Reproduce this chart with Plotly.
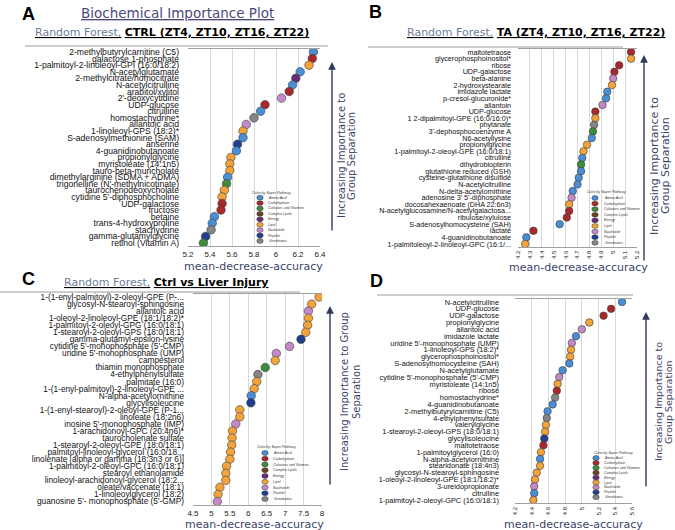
import plotly.graph_objects as go

W, H = 675, 530

# ---------------- data ----------------
pathway_names = ["Amino Acid", "Carbohydrate", "Cofactors and Vitamins", "Complex Lipids",
                 "Energy", "Lipid", "Nucleotide", "Peptide", "Xenobiotics"]
pathway_codes = ["AA", "CH", "CV", "CL", "EN", "LI", "NU", "PE", "XE"]

a_labels = ["2-methylbutyrylcarnitine (C5)", "galactose 1-phosphate", "1-palmitoyl-2-linoleoyl-GPI (16:0/18:2)",
            "N-acetylglutamate", "2-methylcitrate/homocitrate", "N-acetylcitrulline", "arabitol/xylitol",
            "2'-deoxycytidine", "UDP-glucose", "citrulline", "homostachydrine*", "allantoic acid",
            "1-linoleoyl-GPS (18:2)*", "S-adenosylmethionine (SAM)", "anserine", "4-guanidinobutanoate",
            "propionylglycine", "myristoleate (14:1n5)", "tauro-beta-muricholate",
            "dimethylarginine (SDMA + ADMA)", "trigonelline (N'-methylnicotinate)", "taurochenodeoxycholate",
            "cytidine 5'-diphosphocholine", "UDP-galactose", "fructose", "betaine", "trans-4-hydroxyproline",
            "stachydrine", "gamma-glutamylglycine", "retinol (Vitamin A)"]
a_values = [6.34, 6.33, 6.30, 6.22, 6.18, 6.15, 6.12, 6.05, 5.90, 5.86, 5.80, 5.73, 5.70, 5.70, 5.65,
            5.64, 5.59, 5.58, 5.58, 5.56, 5.55, 5.53, 5.51, 5.51, 5.50, 5.44, 5.42, 5.41, 5.36, 5.34]
a_paths = ["AA", "CH", "LI", "AA", "EN", "AA", "CH", "NU", "CH", "AA", "XE", "NU", "LI", "AA", "PE",
           "AA", "LI", "LI", "LI", "AA", "CV", "LI", "LI", "CH", "CH", "AA", "AA", "XE", "PE", "CV"]

b_labels = ["maltotetraose", "glycerophosphoinositol*", "ribose", "UDP-galactose", "beta-alanine",
            "2-hydroxystearate", "imidazole lactate", "p-cresol-glucuronide*", "allantoin", "UDP-glucose",
            "1 2-dipalmitoyl-GPE (16:0/16:0)*", "phytanate", "3'-dephosphocoenzyme A", "N6-acetyllysine",
            "propionylglycine", "1-palmitoyl-2-oleoyl-GPE (16:0/18:1)", "citrulline", "dihydrobiopterin",
            "glutathione reduced (GSH)", "cysteine-glutathione disulfide", "N-acetylcitrulline",
            "N-delta-acetylornithine", "adenosine 3' 5'-diphosphate", "docosahexaenoate (DHA 22:6n3)",
            "N-acetylglucosamine/N-acetylgalactosa...", "ribulose/xylulose", "S-adenosylhomocysteine (SAH)",
            "lactate", "4-guanidinobutanoate", "1-palmitoleoyl-2-linoleoyl-GPC (16:1/..."]
b_values = [5.15, 5.15, 5.05, 5.01, 5.00, 4.99, 4.95, 4.94, 4.91, 4.85, 4.85, 4.84, 4.83, 4.82, 4.78,
            4.75, 4.74, 4.73, 4.73, 4.71, 4.70, 4.66, 4.65, 4.63, 4.63, 4.61, 4.55, 4.33, 4.27, 4.26]
b_paths = ["CH", "LI", "CH", "CH", "NU", "LI", "AA", "AA", "NU", "CH", "LI", "XE", "CV", "AA", "LI",
           "LI", "AA", "CV", "AA", "AA", "AA", "AA", "NU", "LI", "CH", "CH", "AA", "CH", "AA", "LI"]

c_labels = ["1-(1-enyl-palmitoyl)-2-oleoyl-GPE (P-...", "glycosyl-N-stearoyl-sphingosine", "allantoic acid",
            "1-oleoyl-2-linoleoyl-GPE (18:1/18:2)*", "1-palmitoyl-2-oleoyl-GPG (16:0/18:1)",
            "1-stearoyl-2-oleoyl-GPS (18:0/18:1)", "gamma-glutamyl-epsilon-lysine",
            "cytidine 5'-monophosphate (5'-CMP)", "uridine 5'-monophosphate (UMP)", "campesterol",
            "thiamin monophosphate", "4-ethylphenylsulfate", "palmitate (16:0)",
            "1-(1-enyl-palmitoyl)-2-linoleoyl-GPE ...", "N-alpha-acetylornithine", "glycylisoleucine",
            "1-(1-enyl-stearoyl)-2-oleoyl-GPE (P-1...", "linoleate (18:2n6)", "inosine 5'-monophosphate (IMP)",
            "1-arachidonoyl-GPC (20:4n6)*", "taurocholenate sulfate", "1-stearoyl-2-oleoyl-GPE (18:0/18:1)",
            "palmitoyl-linoleoyl-glycerol (16:0/18...", "linolenate [alpha or gamma (18:3n3 or 6)]",
            "1-palmitoyl-2-oleoyl-GPC (16:0/18:1)", "stearoyl ethanolamide",
            "linoleoyl-arachidonoyl-glycerol (18:2...", "oleate/vaccenate (18:1)", "1-linoleoylglycerol (18:2)",
            "guanosine 5'- monophosphate (5'-GMP)"]
c_values = [7.92, 7.72, 7.63, 7.63, 7.61, 7.56, 7.43, 7.12, 6.76, 6.73, 6.46, 6.26, 6.23, 6.16, 6.08,
            6.07, 5.77, 5.77, 5.66, 5.57, 5.56, 5.55, 5.52, 5.50, 5.41, 5.39, 5.39, 5.23, 5.18, 5.16]
c_paths = ["LI", "LI", "NU", "LI", "LI", "LI", "PE", "NU", "NU", "LI", "CV", "XE", "LI", "LI", "AA",
           "PE", "LI", "LI", "NU", "LI", "LI", "LI", "LI", "LI", "LI", "LI", "LI", "LI", "LI", "NU"]

d_labels = ["N-acetylcitrulline", "UDP-glucose", "UDP-galactose", "propionylglycine", "allantoic acid",
            "imidazole lactate", "uridine 5'-monophosphate (UMP)", "1-linoleoyl-GPS (18:2)*",
            "glycerophosphoinositol*", "S-adenosylhomocysteine (SAH)", "N-acetylglutamate",
            "cytidine 5'-monophosphate (5'-CMP)", "myristoleate (14:1n5)", "ribose", "homostachydrine*",
            "4-guanidinobutanoate", "2-methylbutyrylcarnitine (C5)", "4-ethylphenylsulfate", "valerylglycine",
            "1-stearoyl-2-oleoyl-GPS (18:0/18:1)", "glycylisoleucine", "maltotetraose",
            "1-palmitoylglycerol (16:0)", "N-alpha-acetylornithine", "stearidonate (18:4n3)",
            "glycosyl-N-stearoyl-sphingosine", "1-oleoyl-2-linoleoyl-GPE (18:1/18:2)*", "3-ureidopropionate",
            "citrulline", "1-palmitoyl-2-oleoyl-GPC (16:0/18:1)"]
d_values = [5.48, 5.35, 5.26, 5.09, 5.00, 4.93, 4.88, 4.87, 4.86, 4.85, 4.77, 4.73, 4.71, 4.70, 4.68,
            4.65, 4.59, 4.58, 4.57, 4.56, 4.55, 4.54, 4.51, 4.50, 4.50, 4.46, 4.44, 4.43, 4.43, 4.42]
d_paths = ["AA", "CH", "CH", "LI", "NU", "AA", "NU", "LI", "LI", "AA", "AA", "NU", "LI", "CH", "XE",
           "AA", "AA", "XE", "LI", "LI", "PE", "CH", "LI", "AA", "LI", "LI", "LI", "NU", "AA", "LI"]

# ---------------- style ----------------
COLORS = {"AA": "#4a8fd6", "CH": "#a8282c", "CV": "#3c8c3c", "CL": "#6b4226", "EN": "#6a2a7a",
          "LI": "#f2a43a", "NU": "#c48ac8", "PE": "#1f3f8f", "XE": "#858585"}
FONT = "Liberation Sans, Arial, sans-serif"
WIDE = "DejaVu Sans, sans-serif"
SLATE = "#3b4468"


def fx(p):
    return p / W


def fy(p):
    return 1 - p / H


panels = [
    dict(labels=a_labels, values=a_values, paths=a_paths, xd=(188, 320), yd=(48.7, 246.3),
         rng=(5.2, 6.4), dtick=0.2, tangle=0, tfont=8, lfont=8.6, stand=8, msize=8.5,
         legend=(250, 193, 260, 266, 197.7, 5.4)),
    dict(labels=b_labels, values=b_values, paths=b_paths, xd=(518, 637), yd=(48.7, 247.3),
         rng=(4.2, 5.2), dtick=0.1, tangle=-90, tfont=6, lfont=7.2, stand=6, msize=7.5,
         legend=(585, 192, 595, 602, 198, 5.6)),
    dict(labels=c_labels, values=c_values, paths=c_paths, xd=(193, 322), yd=(293.5, 505),
         rng=(4.5, 8.0), dtick=0.5, tangle=0, tfont=8, lfont=8.3, stand=8, msize=8.5,
         legend=(255, 447, 265, 271, 453, 5.75)),
    dict(labels=d_labels, values=d_values, paths=d_paths, xd=(515, 632), yd=(298.6, 503.4),
         rng=(4.2, 5.6), dtick=0.2, tangle=-90, tfont=6, lfont=7.4, stand=15, msize=7.5,
         legend=(592, 453, 596, 602, 458, 4.9)),
]

fig = go.Figure()
layout = dict(width=W, height=H, margin=dict(l=0, r=0, t=0, b=0, autoexpand=False),
              paper_bgcolor="white", plot_bgcolor="white", showlegend=False,
              font=dict(family=FONT, color="black"))
shapes = []
annotations = []

for i, p in enumerate(panels):
    n = i + 1
    xa = "x" if n == 1 else f"x{n}"
    ya = "y" if n == 1 else f"y{n}"
    fig.add_trace(go.Scatter(
        x=p["values"], y=p["labels"], mode="markers", xaxis=xa, yaxis=ya,
        marker=dict(size=p["msize"], color=[COLORS[c] for c in p["paths"]],
                    line=dict(color="#3a3a3a", width=0.6)),
        hoverinfo="x+y"))
    nlab = len(p["labels"])
    layout["xaxis" if n == 1 else f"xaxis{n}"] = dict(
        domain=[fx(p["xd"][0]), fx(p["xd"][1])], range=list(p["rng"]), dtick=p["dtick"],
        tick0=p["rng"][0], anchor=ya, showgrid=True, gridcolor="#d9d9d9", gridwidth=1,
        zeroline=False, showline=True, linecolor="#a0a0a0", linewidth=1, mirror=True,
        ticks="", tickangle=p["tangle"], tickfont=dict(size=p["tfont"], color="#222"),
        ticklabelstandoff=0, automargin=False, fixedrange=True)
    layout["yaxis" if n == 1 else f"yaxis{n}"] = dict(
        domain=[fy(p["yd"][1]), fy(p["yd"][0])], type="category",
        categoryorder="array", categoryarray=p["labels"], range=[nlab - 0.5, -0.5],
        tickmode="array", tickvals=p["labels"], ticktext=p["labels"],
        anchor=xa, showgrid=False, zeroline=False, showline=False, ticks="",
        ticklabelstandoff=p["stand"], tickfont=dict(size=p["lfont"], color="#111"),
        automargin=False, fixedrange=True)

    # legend (drawn as swatches + text)
    tx, ty, mx, lx, y0, step = p["legend"]
    annotations.append(dict(x=fx(tx), y=fy(ty), xref="paper", yref="paper", xanchor="left",
                            yanchor="middle", showarrow=False, text="<i>Color by Super Pathway</i>",
                            font=dict(size=3.6, color="#333")))
    for k, (code, name) in enumerate(zip(pathway_codes, pathway_names)):
        cy = y0 + k * step
        shapes.append(dict(type="circle", xref="paper", yref="paper",
                           x0=fx(mx - 3.2), x1=fx(mx + 3.2), y0=fy(cy + 2.4), y1=fy(cy - 2.4),
                           fillcolor=COLORS[code], line=dict(color="#3a3a3a", width=0.5)))
        annotations.append(dict(x=fx(lx), y=fy(cy), xref="paper", yref="paper", xanchor="left",
                                yanchor="middle", showarrow=False, text=f"<i>{name}</i>",
                                font=dict(size=3.5, color="#333")))

# separator lines above panels
for (x0, x1, yy) in [(25, 328, 46), (368, 623, 47), (0, 300, 292), (377, 633, 295)]:
    shapes.append(dict(type="line", xref="paper", yref="paper", x0=fx(x0), x1=fx(x1),
                       y0=fy(yy), y1=fy(yy), line=dict(color="#9a9a9a", width=1)))

# panel letters
for (t, x, y) in [("A", 29, 14), ("B", 375, 12), ("C", 29, 279), ("D", 376, 281)]:
    annotations.append(dict(x=fx(x), y=fy(y), xref="paper", yref="paper", showarrow=False,
                            xanchor="center", yanchor="middle",
                            text=f"<b>{t}</b>", font=dict(size=18, color="black")))

# main title
annotations.append(dict(x=fx(177), y=fy(13), xref="paper", yref="paper", showarrow=False,
                        xanchor="center", yanchor="middle",
                        text="<u>Biochemical Importance Plot</u>",
                        font=dict(family=WIDE, size=13.5, color="#4a4a7a")))
# subtitles
for (x, y, grey, black) in [(33, 33, "Random Forest,", "CTRL (ZT4, ZT10, ZT16, ZT22)"),
                            (405, 33, "Random Forest,", "TA (ZT4, ZT10, ZT16, ZT22)"),
                            (62, 282, "Random Forest,", "Ctrl vs Liver Injury")]:
    annotations.append(dict(
        x=fx(x), y=fy(y), xref="paper", yref="paper", showarrow=False, xanchor="left",
        yanchor="middle",
        text=(f"<u><span style='color:#6e7c9c'>{grey}</span></u> "
              f"<u><b>{black}</b></u>"),
        font=dict(family=WIDE, size=11, color="black")))

# x-axis titles
for (x, y) in [(253, 266), (578, 267), (254, 524), (573, 524)]:
    annotations.append(dict(x=fx(x), y=fy(y), xref="paper", yref="paper", showarrow=False,
                            xanchor="center", yanchor="middle",
                            text="mean-decrease-accuracy",
                            font=dict(family=WIDE, size=11, color=SLATE)))

# importance arrows and rotated captions
arrows = [
    (332, 62, 232, [(342, "Increasing Importance to"), (352, "Group Separation")], 156, 10),
    (644, 55, 262, [(655, "Increasing Importance to"), (666, "Group Separation")], 166, 11),
    (330, 306, 486, [(344, "Increasing Importance to Group"), (356, "Separation")], 392, 10),
    (646, 312, 488, [(658, "Increasing Importance to"), (668, "Group Separation")], 402, 9.5),
]
for (ax_, ytop, ybot, lines, yc, fs) in arrows:
    annotations.append(dict(x=fx(ax_), y=fy(ytop), xref="paper", yref="paper", text="",
                            showarrow=True, ax=0, ay=ybot - ytop, axref="pixel", ayref="pixel",
                            arrowhead=2, arrowsize=1.1, arrowwidth=1.4, arrowcolor="#2f3a5e"))
    for (lx, txt) in lines:
        annotations.append(dict(x=fx(lx), y=fy(yc), xref="paper", yref="paper", showarrow=False,
                                xanchor="center", yanchor="middle",
                                textangle=-90, text=txt,
                                font=dict(family=WIDE, size=fs, color=SLATE)))

layout["shapes"] = shapes
layout["annotations"] = annotations
fig.update_layout(**layout)
fig.write_html("out.html", config={"displayModeBar": False},
               post_script="document.body.style.margin='0';")
